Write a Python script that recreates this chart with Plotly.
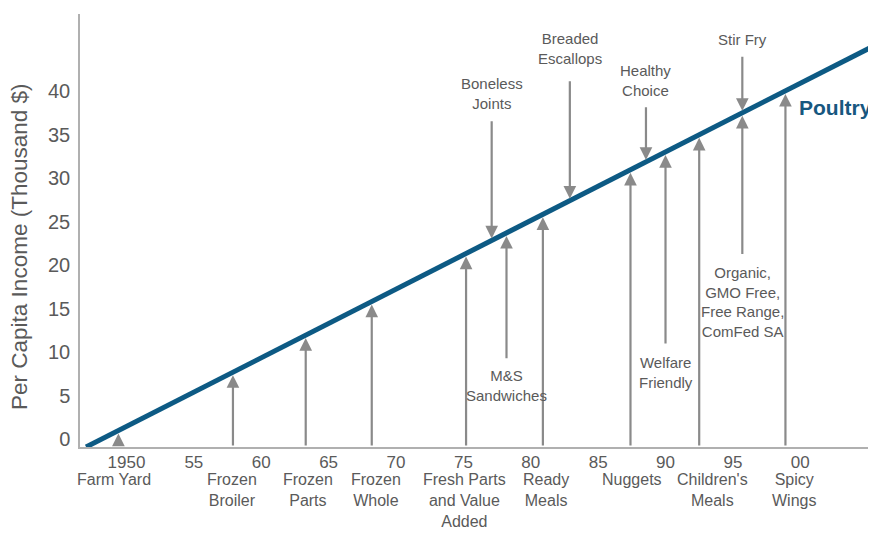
import plotly.graph_objects as go

# ---- data ----
year_ticks = [1950, 1955, 1960, 1965, 1970, 1975, 1980, 1985, 1990, 1995, 2000]
year_labels = ["1950", "55", "60", "65", "70", "75", "80", "85", "90", "95", "00"]
income_ticks = [0, 5, 10, 15, 20, 25, 30, 35, 40]

line_years = [1947.0, 2005.6]
line_income = [-0.92, 45.3]

# innovations shown below the axis (arrows from axis up to the line)
base_events = ["Farm Yard", "Frozen<br>Broiler", "Frozen<br>Parts", "Frozen<br>Whole",
               "Fresh Parts<br>and Value<br>Added", "Ready<br>Meals", "Nuggets",
               "Children's<br>Meals", "Spicy<br>Wings"]
base_years = [1949.4, 1957.9, 1963.3, 1968.2, 1975.2, 1980.9, 1987.4, 1992.5, 1998.9]
base_tips = [0.97, 7.68, 11.94, 15.80, 21.32, 25.82, 30.94, 34.97, 40.01]
base_label_x = [1949.1, 1957.8, 1963.5, 1968.5, 1975.05, 1981.1, 1987.5, 1993.5, 1999.5]

# innovations labelled above the line (arrows pointing down)
top_events = ["Boneless<br>Joints", "Breaded<br>Escallops", "Healthy<br>Choice", "Stir Fry"]
top_years = [1977.1, 1982.9, 1988.55, 1995.7]
top_tips = [22.82, 27.39, 31.85, 37.49]
top_tails = [36.7, 41.3, 38.3, 44.1]
top_label_y = [39.66, 44.9, 41.2, 45.9]

# innovations labelled below the line inside the plot (arrows pointing up)
mid_events = ["M&S<br>Sandwiches", "Welfare<br>Friendly",
              "Organic,<br>GMO Free,<br>Free Range,<br>ComFed SA"]
mid_years = [1978.2, 1990.0, 1995.7]
mid_tips = [23.69, 32.99, 37.49]
mid_tails = [9.1, 10.8, 21.1]
mid_label_y = [6.2, 7.64, 15.8]

series_name = "Poultry"
series_label_pos = (2002.6, 38.05)
y_title = "Per Capita Income (Thousand $)"

# ---- styling ----
FONT = "Liberation Sans, Arial, Helvetica, sans-serif"
TXT = "#5a5a5a"
ARROW = "#8a8a8a"
LINE = "#0d5a84"
AXIS = "#b0b0b0"

fig = go.Figure()
fig.add_trace(go.Scatter(x=line_years, y=line_income, mode="lines",
                         line=dict(color=LINE, width=5), showlegend=False,
                         hoverinfo="skip"))

ann = []
arrow_common = dict(showarrow=True, arrowhead=2, arrowsize=1.15, arrowwidth=2.2,
                    arrowcolor=ARROW, axref="x", ayref="y", xref="x", yref="y",
                    text="")

y_axis_base = -0.92
for yr, tip in zip(base_years, base_tips):
    ann.append(dict(x=yr, y=tip, ax=yr, ay=y_axis_base, standoff=3, **arrow_common))
for yr, tip, tail in zip(top_years, top_tips, top_tails):
    ann.append(dict(x=yr, y=tip, ax=yr, ay=tail, standoff=2, **arrow_common))
for yr, tip, tail in zip(mid_years, mid_tips, mid_tails):
    ann.append(dict(x=yr, y=tip, ax=yr, ay=tail, standoff=3, **arrow_common))

label_font = dict(family=FONT, size=15, color=TXT)
for yr, txt, ly in zip(top_years, top_events, top_label_y):
    ann.append(dict(x=yr, y=ly, text=txt, showarrow=False, xref="x", yref="y",
                    xanchor="center", yanchor="middle", font=label_font))
for yr, txt, ly in zip(mid_years, mid_events, mid_label_y):
    ann.append(dict(x=yr, y=ly, text=txt, showarrow=False, xref="x", yref="y",
                    xanchor="center", yanchor="middle", font=label_font))

for lx, txt in zip(base_label_x, base_events):
    ann.append(dict(x=lx, y=-0.051, text=txt, showarrow=False, xref="x", yref="paper",
                    xanchor="center", yanchor="top",
                    font=dict(family=FONT, size=16, color=TXT)))

ann.append(dict(x=series_label_pos[0], y=series_label_pos[1], text="<b>%s</b>" % series_name,
                showarrow=False, xref="x", yref="y", xanchor="center", yanchor="middle",
                font=dict(family=FONT, size=21, color="#17577f")))

# y-axis title
ann.append(dict(x=-0.0754, y=0.462, xref="paper", yref="paper", text=y_title,
                showarrow=False, textangle=-90, xanchor="center", yanchor="middle",
                font=dict(family=FONT, size=22.5, color=TXT)))

# page body adds an 8px offset, so the figure is 868x525 with margins reduced accordingly
fig.update_layout(
    width=868, height=525,
    margin=dict(l=72, r=0, t=6, b=86),
    paper_bgcolor="white", plot_bgcolor="white",
    showlegend=False,
    annotations=ann,
    font=dict(family=FONT, color=TXT),
    xaxis=dict(range=[1946.55, 2005.62], tickvals=year_ticks, ticktext=year_labels,
               automargin=False,
               showgrid=False, zeroline=False, showline=True, linecolor=AXIS, linewidth=1.5,
               ticks="", ticklabelstandoff=-1,
               tickfont=dict(family=FONT, size=17, color=TXT)),
    yaxis=dict(range=[-0.92, 48.85], tickvals=income_ticks, automargin=False,
               showgrid=False, zeroline=False, showline=True, linecolor=AXIS, linewidth=1.5,
               ticks="", ticklabelstandoff=4,
               tickfont=dict(family=FONT, size=20, color=TXT)),
)

fig.write_html("out.html")
